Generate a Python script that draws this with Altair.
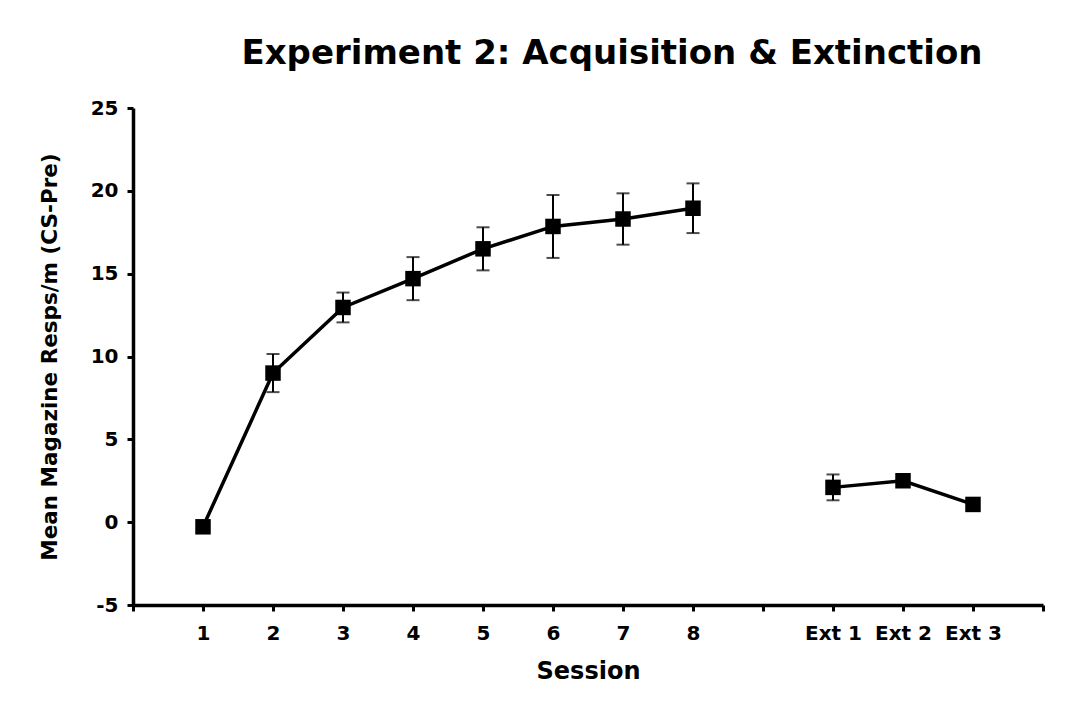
import altair as alt
import pandas as pd

# Session slots on the category axis (slot 9 is an empty gap)
acq_labels = ["1", "2", "3", "4", "5", "6", "7", "8"]
acq_slot = [1, 2, 3, 4, 5, 6, 7, 8]
acq_mean = [-0.28, 9.0, 12.96, 14.7, 16.5, 17.85, 18.3, 18.95]
acq_err = [0.0, 1.15, 0.9, 1.3, 1.3, 1.9, 1.55, 1.5]

ext_labels = ["Ext 1", "Ext 2", "Ext 3"]
ext_slot = [10, 11, 12]
ext_mean = [2.1, 2.5, 1.07]
ext_err = [0.78, 0.3, 0.25]

y_ticks = [-5, 0, 5, 10, 15, 20, 25]
x_ticks = list(range(0, 14))

rows = []
for lab, s, m, e in zip(acq_labels, acq_slot, acq_mean, acq_err):
    rows.append(dict(label=lab, slot=s, mean=m, lo=m - e, hi=m + e, phase="Acquisition"))
for lab, s, m, e in zip(ext_labels, ext_slot, ext_mean, ext_err):
    rows.append(dict(label=lab, slot=s, mean=m, lo=m - e, hi=m + e, phase="Extinction"))
df = pd.DataFrame(rows)

label_map = {str(s): l for s, l in zip(acq_slot + ext_slot, acq_labels + ext_labels)}
label_expr = "{" + ", ".join(f"'{k}': '{v}'" for k, v in label_map.items()) + "}[datum.value] || ''"

FONT = "DejaVu Sans"

x = alt.X(
    "slot:Q",
    scale=alt.Scale(domain=[0, 13], nice=False, zero=False),
    axis=alt.Axis(
        values=x_ticks,
        labelExpr=label_expr,
        title="Session",
        grid=False,
        domainColor="black",
        domainWidth=3.5,
        tickColor="black",
        tickWidth=3,
        tickSize=6,
        labelFont=FONT,
        labelFontSize=20,
        labelFontWeight="bold",
        labelColor="black",
        labelPadding=12,
        titleFont=FONT,
        titleFontSize=24,
        titleFontWeight="bold",
        titleColor="black",
        titlePadding=16,
    ),
)
y_axis = alt.Axis(
    values=y_ticks,
    labelExpr="datum.value + ''",
    title="Mean Magazine Resps/m (CS-Pre)",
    grid=False,
    domainColor="black",
    domainWidth=3.5,
    tickColor="black",
    tickWidth=3,
    tickSize=6,
    labelFont=FONT,
    labelFontSize=20,
    labelFontWeight="bold",
    labelColor="black",
    labelPadding=9,
    titleFont=FONT,
    titleFontSize=21.5,
    titleFontWeight="bold",
    titleColor="black",
    titlePadding=29,
)
y_scale = alt.Scale(domain=[-5, 25], nice=False, zero=False)

base = alt.Chart(df)

line = base.mark_line(color="black", strokeWidth=3.5).encode(
    x=x,
    y=alt.Y("mean:Q", scale=y_scale, axis=y_axis),
    detail="phase:N",
)
rule = base.mark_rule(color="black", strokeWidth=2).encode(
    x="slot:Q", y="lo:Q", y2="hi:Q"
)
cap_lo = base.mark_tick(color="black", thickness=2, size=13, orient="horizontal").encode(
    x="slot:Q", y="lo:Q"
)
cap_hi = base.mark_tick(color="black", thickness=2, size=13, orient="horizontal").encode(
    x="slot:Q", y="hi:Q"
)
pts = base.mark_point(shape="square", filled=True, color="black", opacity=1, size=240).encode(
    x="slot:Q", y="mean:Q"
)

chart = (
    alt.layer(line, rule, cap_lo, cap_hi, pts)
    .properties(
        width=910,
        height=497,
        title=alt.TitleParams(
            "Experiment 2: Acquisition & Extinction",
            font=FONT,
            fontSize=34,
            fontWeight="bold",
            color="black",
            anchor="middle",
            dx=24,
            offset=27,
        ),
        view=alt.ViewBackground(stroke="white", strokeWidth=0, fill="white"),
        autosize=alt.AutoSizeParams(type="none"),
        padding={"left": 125, "top": 100, "right": 30, "bottom": 80},
    )
    .configure_axis(grid=False)
    .configure_view(strokeWidth=0, stroke="white")
    .configure(background="white")
)

chart.save("out.html", embed_options={"renderer": "svg", "actions": False})
